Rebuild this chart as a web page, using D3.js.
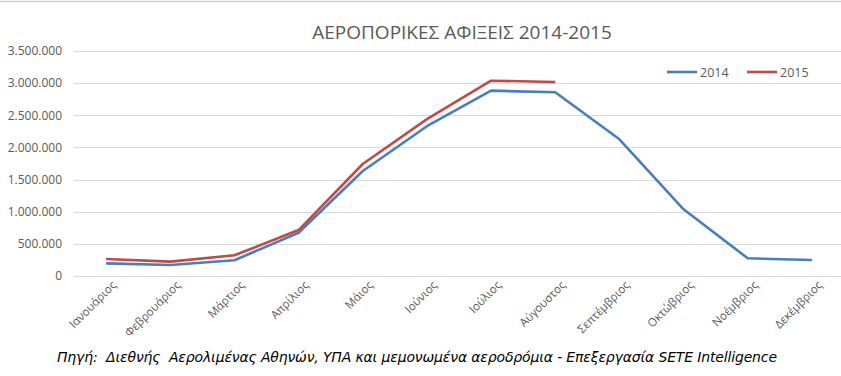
<!DOCTYPE html>
<html>
<head>
<meta charset="utf-8">
<script src="https://cdn.jsdelivr.net/npm/d3@7"></script>
<style>
  body { margin: 0; background: #fff; }
  svg { display: block; font-family: 'Open Sans', 'Liberation Sans', sans-serif; }
</style>
</head>
<body>
<div id="chart"></div>
<script>
const months = ['Ιανουάριος', 'Φεβρουάριος', 'Μάρτιος', 'Απρίλιος', 'Μάιος', 'Ιούνιος',
  'Ιούλιος', 'Αύγουστος', 'Σεπτέμβριος', 'Οκτώβριος', 'Νοέμβριος', 'Δεκέμβριος'];
const arrivals2014 = [197000, 171000, 244000, 673000, 1633000, 2330000,
  2883000, 2858000, 2127000, 1037000, 275000, 249000];
const arrivals2015 = [264000, 223000, 322000, 715000, 1742000, 2440000, 3038000, 3018000];
const yTicks = [0, 500000, 1000000, 1500000, 2000000, 2500000, 3000000, 3500000];

const W = 841, H = 376;
const margin = { top: 51, right: -3, bottom: 100, left: 74 };
const width = W - margin.left - margin.right;
const height = H - margin.top - margin.bottom;

const svg = d3.select('#chart').append('svg')
  .attr('width', W).attr('height', H);

// thin frame line at the very top
svg.append('line')
  .attr('x1', 0).attr('x2', W).attr('y1', 1.5).attr('y2', 1.5)
  .attr('stroke', '#d0d0d0').attr('stroke-width', 1.5);

const g = svg.append('g').attr('transform', `translate(${margin.left},${margin.top})`);

const x = d3.scaleBand().domain(months).range([0, width]);
const y = d3.scaleLinear().domain([0, 3500000]).range([height, 0]);
const fmt = v => d3.format(',')(v).replace(/,/g, '.');

// gridlines
g.append('g').selectAll('line').data(yTicks).join('line')
  .attr('x1', 0).attr('x2', width)
  .attr('y1', d => Math.round(y(d)) + 0.5).attr('y2', d => Math.round(y(d)) + 0.5)
  .attr('stroke', '#d9d9d9').attr('stroke-width', 1);

// y axis labels
const yAxis = g.append('g').call(d3.axisLeft(y).tickValues(yTicks).tickFormat(fmt).tickSize(0).tickPadding(12));
yAxis.select('.domain').remove();
yAxis.selectAll('text').attr('fill', '#595959').style('font-size', '12px')
  .attr('font-family', "'Open Sans', sans-serif");

// x axis labels
const xAxis = g.append('g').attr('transform', `translate(0,${height})`)
  .call(d3.axisBottom(x).tickSize(0).tickPadding(0));
xAxis.select('.domain').remove();
xAxis.selectAll('text')
  .attr('fill', '#595959').style('font-size', '11.5px')
  .attr('font-family', "'Open Sans', sans-serif")
  .attr('text-anchor', 'end')
  .attr('dy', '0.35em')
  .attr('transform', 'translate(8,7) rotate(-45)');

const line = d3.line()
  .x((d, i) => x(months[i]) + x.bandwidth() / 2)
  .y(d => y(d));

g.append('path').datum(arrivals2014)
  .attr('d', line).attr('fill', 'none')
  .attr('stroke', '#4a7ebb').attr('stroke-width', 2.6).attr('stroke-linejoin', 'round');
g.append('path').datum(arrivals2015)
  .attr('d', line).attr('fill', 'none')
  .attr('stroke', '#be4b48').attr('stroke-width', 2.6).attr('stroke-linejoin', 'round');

// title
svg.append('text')
  .attr('x', 462).attr('y', 39).attr('text-anchor', 'middle')
  .attr('fill', '#595959').style('font-size', '19px')
  .text('ΑΕΡΟΠΟΡΙΚΕΣ ΑΦΙΞΕΙΣ 2014-2015');

// legend
const legend = [{ name: '2014', color: '#4a7ebb' }, { name: '2015', color: '#be4b48' }];
const lg = svg.append('g').selectAll('g').data(legend).join('g')
  .attr('transform', (d, i) => `translate(${667 + i * 80},72)`);
lg.append('line').attr('x1', 0).attr('x2', 30).attr('y1', 0).attr('y2', 0)
  .attr('stroke', d => d.color).attr('stroke-width', 2.6);
lg.append('text').attr('x', 33).attr('y', 4.5)
  .attr('fill', '#595959').style('font-size', '12.5px')
  .text(d => d.name);

// source note
svg.append('text')
  .attr('x', 57).attr('y', 362)
  .attr('fill', '#000').style('font-size', '14px').style('font-style', 'italic')
  .style('white-space', 'pre')
  .attr('font-family', "'DejaVu Sans', sans-serif")
  .attr('textLength', 720).attr('lengthAdjust', 'spacing')
  .text('Πηγή:  Διεθνής  Αερολιμένας Αθηνών, ΥΠΑ και μεμονωμένα αεροδρόμια - Επεξεργασία SETE Intelligence');
</script>
</body>
</html>
